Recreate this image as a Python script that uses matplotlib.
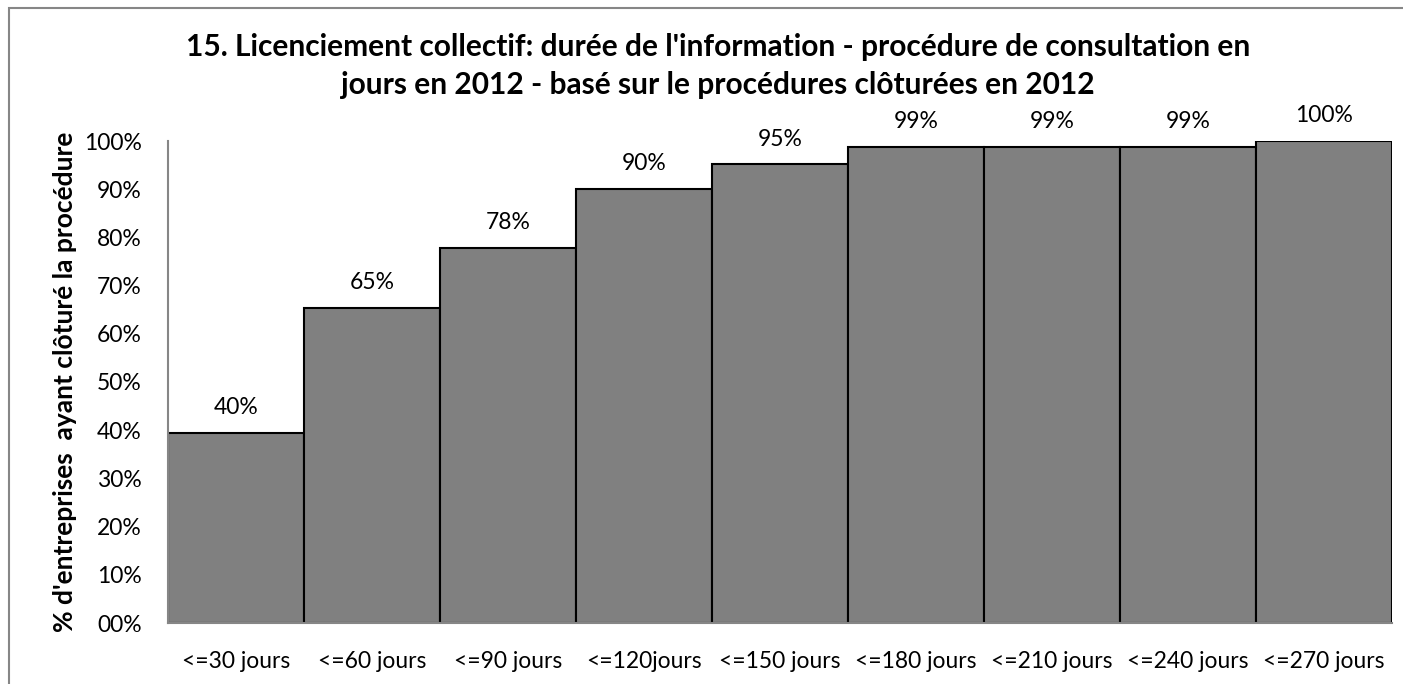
import matplotlib.pyplot as plt
from matplotlib.patches import Rectangle

categories = ['<=30 jours', '<=60 jours', '<=90 jours', '<=120jours', '<=150 jours',
              '<=180 jours', '<=210 jours', '<=240 jours', '<=270 jours']
values = [0.395, 0.654, 0.779, 0.901, 0.952, 0.988, 0.988, 0.988, 1.0]
labels = ['40%', '65%', '78%', '90%', '95%', '99%', '99%', '99%', '100%']
yticks = [0, 0.1, 0.2, 0.3, 0.4, 0.5, 0.6, 0.7, 0.8, 0.9, 1.0]
yticklabels = ['00%', '10%', '20%', '30%', '40%', '50%', '60%', '70%', '80%', '90%', '100%']

title = ("15. Licenciement collectif: durée de l'information - procédure de consultation en\n"
         "jours en 2012 - basé sur le procédures clôturées en 2012")
ylabel = "% d'entreprises  ayant clôturé la procédure"

plt.rcParams['font.family'] = ['Lato', 'DejaVu Sans']

W, H = 1403, 684
fig = plt.figure(figsize=(W / 100, H / 100), dpi=100)
ax = fig.add_axes([168 / W, (H - 623) / H, (1392 - 168) / W, (623 - 141) / H])

x = list(range(len(categories)))
ax.bar(x, values, width=1.0, color='#808080', edgecolor='black', linewidth=1.5)
for xi, v, lab in zip(x, values, labels):
    ax.annotate(lab, (xi, v), xytext=(0, 18), textcoords='offset points',
                ha='center', va='center', fontsize=16.5)

ax.set_xlim(-0.5, len(categories) - 0.5)
ax.set_ylim(0, 1)
ax.set_yticks(yticks)
ax.set_yticklabels(yticklabels, fontsize=16.5)
ax.set_xticks(x)
ax.set_xticklabels(categories, fontsize=16.5)
ax.tick_params(axis='both', length=0)
ax.tick_params(axis='y', pad=19)
ax.tick_params(axis='x', pad=20)

for side in ['top', 'right']:
    ax.spines[side].set_visible(False)
for side in ['left', 'bottom']:
    ax.spines[side].set_color('#868686')
    ax.spines[side].set_linewidth(1.5)

ax.set_ylabel(ylabel, fontsize=19, fontweight='bold', labelpad=5)
fig.text(718 / W, 1 - 66 / H, title, ha='center', va='center', fontsize=21.5,
         fontweight='bold', linespacing=1.4)

# outer chart frame; right and bottom sides fall outside the canvas
frame = Rectangle((9 / W, -0.2), 1.2, 1.2 - 8 / H, transform=fig.transFigure,
                  fill=False, edgecolor='#868686', linewidth=1.5)
fig.add_artist(frame)

fig.savefig('out.png', dpi=100)
